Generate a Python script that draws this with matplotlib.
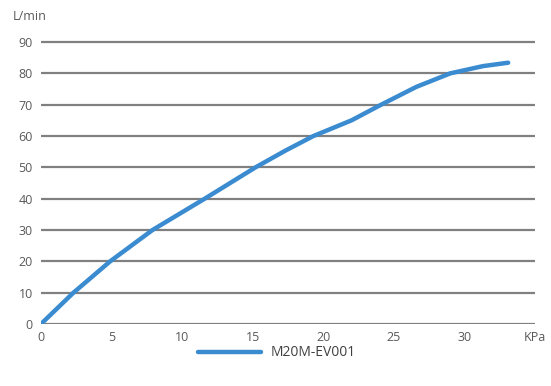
import matplotlib
matplotlib.use("Agg")
import matplotlib.pyplot as plt

pressure_kpa = [0, 2.3, 4.9, 7.9, 11.6, 15.2, 17.3, 19.3, 22.0, 24.1, 26.6, 29.0, 31.3, 33.1]
flow_lpm = [0, 10, 20, 30, 40, 50, 55.3, 60, 65, 70, 75.7, 80, 82.3, 83.4]
series_name = "M20M-EV001"
x_ticks = [0, 5, 10, 15, 20, 25, 30]
y_ticks = [0, 10, 20, 30, 40, 50, 60, 70, 80, 90]

plt.rcParams['font.family'] = ['Open Sans', 'DejaVu Sans']
text_color = '#595959'
grid_color = '#808080'
line_color = '#3a8bd0'

fig = plt.figure(figsize=(5.51, 3.86), dpi=100)
ax = fig.add_axes([41/551, 1-324/386, (535-41)/551, (324-10.7)/386])
ax.set_xlim(0, 35)
ax.set_ylim(0, 100)

for y in y_ticks:
    ax.axhline(y, color=grid_color, lw=1.6, zorder=1)

line, = ax.plot(pressure_kpa, flow_lpm, color=line_color, lw=3.2,
                solid_capstyle='round', solid_joinstyle='round', zorder=3,
                label=series_name)

for s in ax.spines.values():
    s.set_visible(False)
ax.set_xticks(x_ticks + [35])
ax.set_xticklabels([str(t) for t in x_ticks] + ['KPa'])
ax.set_yticks(y_ticks)
ax.set_yticklabels([str(t) for t in y_ticks])
ax.tick_params(axis='both', length=0, colors=text_color, labelsize=9)
ax.tick_params(axis='x', pad=5)
ax.tick_params(axis='y', pad=6)

fig.text(30/551, 1-16/386, 'L/min', ha='center', va='center', color=text_color, fontsize=9)

leg = fig.legend(handles=[line], loc='center', bbox_to_anchor=(277/551, 1-353/386),
                 frameon=False, fontsize=10, handlelength=4.5, handletextpad=0.7,
                 borderpad=0.1)
for t in leg.get_texts():
    t.set_color('#404040')

fig.savefig('out.png', dpi=100)
